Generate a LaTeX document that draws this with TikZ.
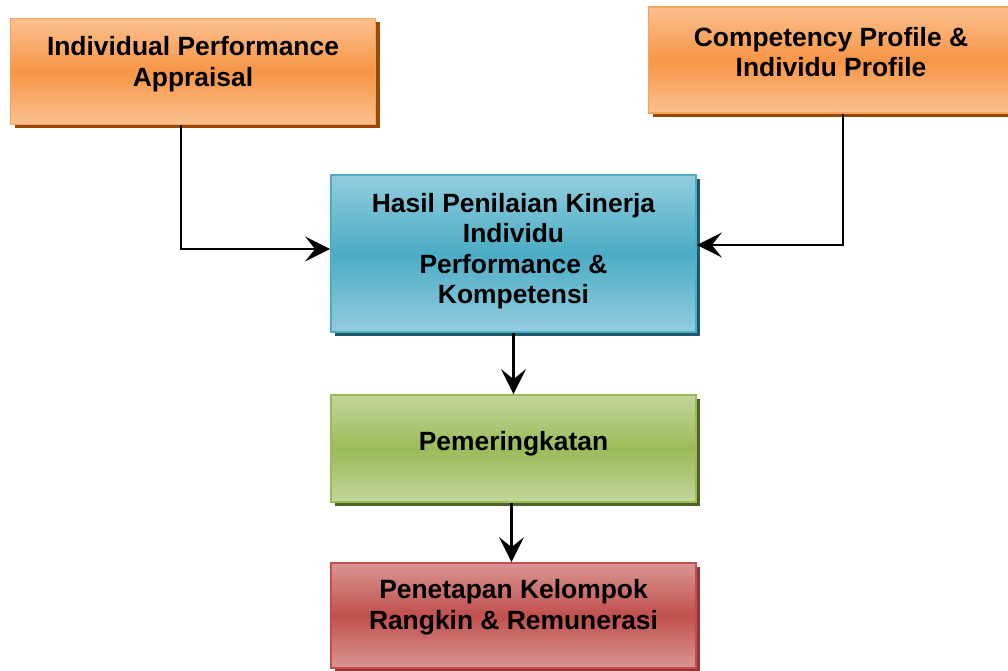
\documentclass[tikz,border=0pt]{standalone}
\usepackage{fontspec}
\setmainfont{Liberation Sans}
\usetikzlibrary{arrows.meta,shadows}
\definecolor{orlight}{HTML}{FAC08F}
\definecolor{ormid}{HTML}{F79646}
\definecolor{orline}{HTML}{F7A25C}
\definecolor{orshadow}{HTML}{984807}
\definecolor{bllight}{HTML}{93CDDD}
\definecolor{blmid}{HTML}{4BACC6}
\definecolor{blline}{HTML}{4BACC6}
\definecolor{blshadow}{HTML}{215868}
\definecolor{grlight}{HTML}{C3D69B}
\definecolor{grmid}{HTML}{9BBB59}
\definecolor{grline}{HTML}{9BBB59}
\definecolor{grshadow}{HTML}{4F6228}
\definecolor{rdlight}{HTML}{D99694}
\definecolor{rdmid}{HTML}{C0504D}
\definecolor{rdline}{HTML}{C0504D}
\definecolor{rdshadow}{HTML}{943634}
\tikzset{
  boxbase/.style={rectangle, minimum width=365pt, line width=1.8pt, inner sep=0pt},
  orbox/.style={boxbase, draw=orline, top color=orlight, bottom color=orlight, middle color=ormid,
    drop shadow={shadow xshift=4pt, shadow yshift=-4pt, fill=orshadow, opacity=1}},
  blbox/.style={boxbase, draw=blline, top color=bllight, bottom color=bllight, middle color=blmid,
    drop shadow={shadow xshift=4pt, shadow yshift=-4pt, fill=blshadow, opacity=1}},
  grbox/.style={boxbase, draw=grline, top color=grlight, bottom color=grlight, middle color=grmid,
    drop shadow={shadow xshift=4pt, shadow yshift=-4pt, fill=grshadow, opacity=1}},
  rdbox/.style={boxbase, draw=rdline, top color=rdlight, bottom color=rdlight, middle color=rdmid,
    drop shadow={shadow xshift=4pt, shadow yshift=-4pt, fill=rdshadow, opacity=1}},
  txt/.style={align=center, inner sep=0pt, font=\fontsize{26.4pt}{30.5pt}\selectfont\bfseries},
  arr/.style={line width=2.2pt, -{Stealth[length=25pt, width=25pt, inset=10pt]}},
}
\begin{document}
\begin{tikzpicture}[x=1pt, y=-1pt]
\useasboundingbox (0,0) rectangle (1008,671);
\node[orbox, minimum height=106pt] (b1) at (193,71.5) {};
\node[orbox, minimum height=106pt] (b2) at (831,60) {};
\node[blbox, minimum height=157pt] (b3) at (513.5,253.5) {};
\node[grbox, minimum height=107pt] (b4) at (513.5,448.5) {};
\node[rdbox, minimum height=105pt] (b5) at (513.5,615.5) {};
\node[txt] (t1) at (193,64) {Individual Performance\\Appraisal};
\node[txt] (t2) at (831,52) {Competency Profile \&\\Individu Profile};
\node[txt] (t3) at (513.5,251) {Hasil Penilaian Kinerja\\Individu\\Performance \&\\Kompetensi};
\node[txt] (t4) at (513.5,444) {Pemeringkatan};
\node[txt] (t5) at (513.5,607) {Penetapan Kelompok\\Rangkin \& Remunerasi};
\draw[arr] ([xshift=-12pt]b1.south) |- ([yshift=4.5pt]b3.west);
\draw[arr] ([xshift=12pt]b2.south) |- ([yshift=8.5pt]b3.east);
\draw[arr] (b3.south) -- (b4.north);
\draw[arr] ([xshift=-2pt]b4.south) -- ([xshift=-2pt]b5.north);
\end{tikzpicture}
\end{document}
